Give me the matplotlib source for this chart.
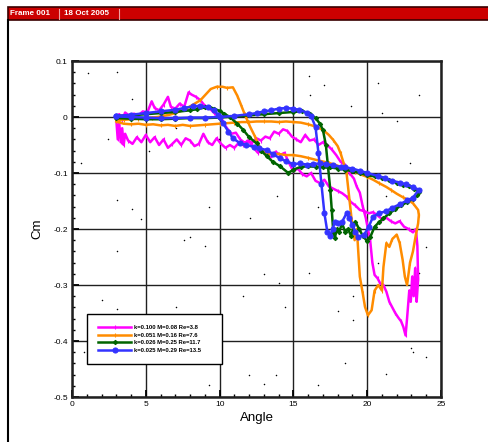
import matplotlib
matplotlib.use("Agg")
import matplotlib.pyplot as plt
from matplotlib.patches import Rectangle
from matplotlib.lines import Line2D
from matplotlib.ticker import MultipleLocator

plt.rcParams['font.family'] = ['Liberation Sans', 'DejaVu Sans']

# ---------------------------------------------------------------
# pitching moment loops, Cm vs angle (deg)
# ---------------------------------------------------------------
labels = ["k=0.100 M=0.08 Re=3.8",
          "k=0.051 M=0.16 Re=7.6",
          "k=0.026 M=0.25 Re=11.7",
          "k=0.025 M=0.29 Re=13.5"]

ang_k100 = [3.0, 3.2, 3.4, 3.6, 3.9, 4.2, 4.5, 4.8, 5.1, 5.4, 5.6, 5.9, 6.2, 6.5, 6.7, 7.0, 7.3, 7.6, 7.9, 8.1,
            8.4, 8.7, 9.0, 9.3, 9.6, 9.9, 10.2, 10.5, 10.8, 11.1, 11.4, 11.7, 12.0, 12.3, 12.6, 12.9, 13.2, 13.5,
            13.8, 14.1, 14.4, 14.7, 15.0, 15.3, 15.6, 15.9, 16.2, 16.5, 16.8, 17.1, 17.4, 17.7, 18.0, 18.3, 18.6,
            18.9, 19.2, 19.5, 19.8, 20.1, 20.4, 20.7, 21.0, 21.3, 21.6, 21.9, 22.2, 22.5, 22.8, 23.1, 23.3,
            23.4, 23.45, 23.35, 23.25, 23.15, 23.05, 22.95, 22.85, 22.7, 22.6, 22.45, 22.3, 22.1, 21.9, 21.7,
            21.5, 21.3, 21.1, 20.9, 20.7, 20.5, 20.35, 20.2, 20.05, 19.9, 19.7, 19.5, 19.3, 19.1, 18.8, 18.5,
            18.2, 17.9, 17.6, 17.3, 17.0, 16.7, 16.4, 16.1, 15.8, 15.5, 15.2, 14.9, 14.6, 14.3, 14.0, 13.7,
            13.4, 13.1, 12.8, 12.5, 12.2, 11.9, 11.6, 11.3, 11.0, 10.7, 10.4, 10.1, 9.8, 9.5, 9.2, 8.9, 8.6,
            8.3, 8.0, 7.7, 7.4, 7.1, 6.8, 6.5, 6.2, 5.9, 5.6, 5.3, 5.0, 4.7, 4.4, 4.1, 3.8, 3.6, 3.5, 3.4, 3.3,
            3.2, 3.1, 3.0]
cm_k100 = [0.0, 0.005, -0.005, 0.008, 0.002, 0.006, 0.003, 0.01, 0.008, 0.028, 0.016, 0.012, 0.022, 0.036,
           0.018, 0.015, 0.024, 0.018, 0.044, 0.04, 0.036, 0.03, 0.02, 0.016, 0.008, 0.002, -0.008, -0.02,
           -0.03, -0.028, -0.04, -0.046, -0.043, -0.055, -0.064, -0.058, -0.068, -0.072, -0.062, -0.068,
           -0.064, -0.082, -0.097, -0.092, -0.102, -0.106, -0.1, -0.114, -0.118, -0.112, -0.124, -0.128,
           -0.132, -0.136, -0.142, -0.152, -0.158, -0.166, -0.168, -0.172, -0.17, -0.176, -0.182, -0.18,
           -0.186, -0.19, -0.186, -0.196, -0.2, -0.206, -0.2,
           -0.23, -0.29, -0.33, -0.27, -0.32, -0.285, -0.33, -0.31, -0.36, -0.39, -0.375, -0.365, -0.358,
           -0.35, -0.34, -0.33, -0.312, -0.3, -0.298, -0.288, -0.282, -0.26, -0.22, -0.2, -0.18, -0.16,
           -0.135, -0.125, -0.11, -0.1, -0.085, -0.08, -0.068, -0.058, -0.05, -0.045, -0.05, -0.04, -0.042,
           -0.032, -0.045, -0.04, -0.035, -0.025, -0.022, -0.03, -0.026, -0.038, -0.035, -0.042, -0.038,
           -0.046, -0.042, -0.05, -0.046, -0.055, -0.05, -0.055, -0.048, -0.038, -0.05, -0.045, -0.03,
           -0.048, -0.052, -0.042, -0.038, -0.05, -0.04, -0.048, -0.055, -0.04, -0.05, -0.036, -0.045,
           -0.032, -0.045, -0.036, -0.048, -0.042, -0.03, -0.05, -0.02, -0.045, -0.01, -0.04, -0.005]

ang_k051 = [3.0, 3.5, 4.0, 4.5, 5.0, 5.5, 6.0, 6.5, 7.0, 7.5, 8.0, 8.5, 9.0, 9.5, 10.0, 10.5, 11.0, 11.5,
            12.0, 12.5, 13.0, 13.5, 14.0, 14.5, 15.0, 15.5, 16.0, 16.5, 17.0, 17.4, 17.7, 18.0, 18.2, 18.4,
            18.6, 18.8, 19.0, 19.15, 19.3, 19.5, 19.7, 19.85, 20.05, 20.3, 20.5, 20.75, 21.0, 21.1, 21.3,
            21.5, 21.7, 22.0, 22.2, 22.4, 22.55, 22.7, 22.9, 23.1, 23.3, 23.45, 23.5, 23.45,
            23.1, 22.7, 22.4, 22.0, 21.6, 21.3, 20.8, 20.4, 20.0, 19.6, 19.2, 18.6, 18.2, 17.9, 17.4, 16.6,
            16.0, 15.5, 15.0, 14.5, 14.0, 13.5, 13.1, 12.7, 12.4, 12.06, 11.7, 11.4, 11.2, 10.9, 10.5,
            10.2, 9.8, 9.4, 8.7, 8.2, 7.8, 7.4, 7.0, 6.6, 6.2, 5.8, 5.4, 5.0, 4.5, 4.0, 3.5, 3.0]
cm_k051 = [-0.008, -0.012, -0.013, -0.012, -0.014, -0.013, -0.015, -0.014, -0.016, -0.014, -0.016, -0.015,
           -0.014, -0.013, -0.012, -0.011, -0.01, -0.009, -0.009, -0.008, -0.008, -0.008, -0.009, -0.008,
           -0.009, -0.01, -0.013, -0.017, -0.023, -0.032, -0.041, -0.052, -0.065, -0.082, -0.1, -0.148,
           -0.196, -0.22, -0.2, -0.285, -0.315, -0.339, -0.354, -0.345, -0.31, -0.3, -0.31, -0.268, -0.225,
           -0.232, -0.218, -0.21, -0.225, -0.255, -0.285, -0.3, -0.26, -0.24, -0.21, -0.19, -0.175, -0.166,
           -0.154, -0.147, -0.143, -0.137, -0.13, -0.125, -0.118, -0.112, -0.107, -0.103, -0.098, -0.092,
           -0.089, -0.086, -0.082, -0.077, -0.073, -0.07, -0.068, -0.068, -0.066, -0.066, -0.065, -0.053,
           -0.035, -0.017, 0.005, 0.025, 0.038, 0.053, 0.052, 0.054, 0.054, 0.05, 0.03, 0.022, 0.016, 0.011,
           0.007, 0.004, 0.002, 0.0, -0.001, -0.002, -0.003, -0.004, -0.005, -0.006]

ang_k026 = [3.0, 4.0, 5.0, 6.0, 7.0, 8.0, 9.0, 10.0, 11.0, 12.0, 13.0, 14.0, 15.0, 15.6, 16.1, 16.5,
            16.8, 17.0, 17.2, 17.35, 17.5, 17.6, 17.7, 17.8, 17.95, 18.1, 18.3, 18.5, 18.7, 18.9, 19.2,
            19.45, 19.7, 20.0, 20.2, 20.5, 20.8, 21.1, 21.5, 21.9, 22.3, 22.7, 23.1, 23.4, 23.5,
            23.2, 22.8, 22.4, 22.0, 21.5, 21.0, 20.5, 20.0, 19.5, 19.0, 18.5, 18.0, 17.5, 17.0, 16.5, 16.0,
            15.5, 15.0, 14.65, 14.1, 13.6, 13.2, 12.8, 12.5, 12.0, 11.6, 11.2, 10.7, 10.3, 10.0, 9.6, 9.3,
            9.0, 8.5, 8.0, 7.0, 6.0, 5.0, 4.0, 3.0]
cm_k026 = [-0.002, -0.003, -0.004, -0.004, -0.003, -0.002, -0.002, -0.001, 0.001, 0.003, 0.005, 0.007,
           0.009, 0.01, 0.006, -0.002, -0.012, -0.023, -0.05, -0.09, -0.13, -0.166, -0.205, -0.216, -0.2,
           -0.205, -0.19, -0.205, -0.2, -0.212, -0.187, -0.2, -0.212, -0.222, -0.215, -0.196, -0.188,
           -0.181, -0.172, -0.165, -0.158, -0.152, -0.146, -0.14, -0.134,
           -0.128, -0.124, -0.121, -0.117, -0.113, -0.109, -0.106, -0.104, -0.1, -0.097, -0.094, -0.092,
           -0.09, -0.09, -0.089, -0.088, -0.089, -0.094, -0.1, -0.088, -0.08, -0.07, -0.06, -0.047, -0.036,
           -0.023, -0.012, 0.0, 0.006, 0.011, 0.015, 0.018, 0.017, 0.014, 0.012, 0.009, 0.007, 0.005,
           0.003, 0.002]

ang_k025 = [3.0, 4.0, 5.0, 6.0, 7.0, 8.0, 9.0, 10.0, 11.0, 12.0, 12.5, 13.0, 13.5, 14.0, 14.5, 15.0,
            15.4, 15.9, 16.2, 16.5, 16.7, 16.9, 17.1, 17.3, 17.5, 17.65, 17.8, 18.0, 18.3, 18.6, 18.8,
            19.0, 19.2, 19.4, 19.8, 20.1, 20.4, 20.8, 21.3, 21.7, 22.2, 22.7, 23.1, 23.5,
            23.1, 22.6, 22.2, 21.7, 21.2, 20.7, 20.0, 19.5, 19.0, 18.5, 18.2, 17.7, 17.2, 16.8, 16.3, 15.9,
            15.45, 15.0, 14.5, 14.1, 13.6, 13.2, 12.7, 12.3, 11.8, 11.4, 10.9, 10.6, 10.2, 9.9, 9.6, 9.2,
            8.7, 8.2, 7.6, 7.0, 6.0, 5.0, 4.0, 3.0]
cm_k025 = [0.001, 0.0, -0.001, -0.002, -0.002, -0.001, -0.001, 0.0, 0.002, 0.005, 0.007, 0.01, 0.012,
           0.015, 0.016, 0.015, 0.0125, 0.008, 0.002, -0.018, -0.065, -0.12, -0.172, -0.205, -0.213, -0.2,
           -0.188, -0.19, -0.187, -0.172, -0.18, -0.193, -0.205, -0.214, -0.21, -0.196, -0.178, -0.172,
           -0.168, -0.162, -0.156, -0.149, -0.144, -0.13,
           -0.125, -0.12, -0.117, -0.114, -0.109, -0.105, -0.1, -0.096, -0.092, -0.09, -0.089, -0.086,
           -0.084, -0.083, -0.084, -0.085, -0.083, -0.084, -0.079, -0.074, -0.066, -0.059, -0.056, -0.053,
           -0.05, -0.047, -0.038, -0.026, -0.01, 0.004, 0.012, 0.017, 0.02, 0.019, 0.016, 0.013, 0.01, 0.007,
           0.004, 0.002]

# scattered stray samples
dot_ang = [1.06, 3.05, 4.06, 2.44, 5.24, 0.63, 3.05, 4.06, 4.67, 9.26, 12.08, 13.88, 16.66, 16.03, 17.04,
           16.1, 18.9, 20.7, 21.0, 22.0, 23.5, 22.9, 21.3, 11.47, 9.93, 11.0, 7.05,
           3.05, 7.6, 8.0, 9.03, 13.0, 14.04, 16.07, 11.6, 14.45, 2.03, 3.05, 7.04, 18.0, 19.03, 19.03, 20.7,
           24.0, 23.5, 23.0, 23.07, 24.0, 0.81, 18.5, 21.3, 12.0, 13.8, 13.0, 9.26, 16.66]
dot_cm = [0.079, 0.08, 0.032, -0.04, -0.061, -0.082, -0.148, -0.165, -0.182, -0.161, -0.181, -0.141, -0.16,
          0.074, 0.058, 0.039, 0.02, 0.06, 0.008, -0.008, 0.039, -0.082, -0.141, 0.021, -0.04, -0.053, -0.019,
          -0.239, -0.219, -0.214, -0.23, -0.281, -0.296, -0.279, -0.319, -0.339, -0.327, -0.343, -0.339,
          -0.346, -0.319, -0.362, -0.26, -0.233, -0.279, -0.413, -0.419, -0.429, -0.42, -0.439, -0.459,
          -0.461, -0.46, -0.476, -0.479, -0.479]

xticks = [0, 5, 10, 15, 20, 25]
xtick_labels = ["0", "5", "10", "15", "20", "25"]
yticks = [0.1, 0.0, -0.1, -0.2, -0.3, -0.4, -0.5]
ytick_labels = ["0.1", "0", "-0.1", "-0.2", "-0.3", "-0.4", "-0.5"]

series = [
    (ang_k100, cm_k100, '#ff00ff', '|', 3.0, 2),
    (ang_k051, cm_k051, '#ff8c00', '|', 3.0, 2),
    (ang_k026, cm_k026, '#006400', 'D', 2.2, 1),
    (ang_k025, cm_k025, '#3333ff', 'o', 3.6, 1),
]

fig = plt.figure(figsize=(4.89, 4.42), dpi=100)

# frame header bar and border
fig.add_artist(Rectangle((8 / 489, 422 / 442), 481 / 489, 13 / 442, transform=fig.transFigure,
                         facecolor='#cc0000', edgecolor='#3a0000', linewidth=1.2))
fig.add_artist(Line2D([8 / 489, 8 / 489], [0, 422 / 442], transform=fig.transFigure,
                      color='black', linewidth=1.5))
fig.text(10 / 489, 428.5 / 442, "Frame 001", color='white', fontsize=5.8, fontweight='bold',
         va='center', ha='left')
fig.text(64 / 489, 428.5 / 442, "18 Oct 2005", color='white', fontsize=5.8, fontweight='bold',
         va='center', ha='left')
for px in (59, 119):
    fig.add_artist(Line2D([px / 489, px / 489], [423.5 / 442, 433.5 / 442], transform=fig.transFigure,
                          color='#f0a0a0', linewidth=0.8))

ax = fig.add_axes([72 / 489, 45 / 442, 369 / 489, 336 / 442])

for ang, cm, col, mk, ms, me in series:
    ax.plot(ang, cm, color=col, linewidth=1.8, marker=mk, markersize=ms, markevery=me,
            markerfacecolor=col, markeredgecolor=col, markeredgewidth=0.8, zorder=3)

ax.scatter(dot_ang, dot_cm, s=1.2, color='black', zorder=2, linewidths=0)

ax.set_xlim(0, 25)
ax.set_ylim(-0.5, 0.1)
ax.set_xticks(xticks)
ax.set_xticklabels(xtick_labels)
ax.set_yticks(yticks)
ax.set_yticklabels(ytick_labels)
ax.xaxis.set_minor_locator(MultipleLocator(1))
ax.yaxis.set_minor_locator(MultipleLocator(0.02))
ax.tick_params(which='major', direction='in', length=5, width=1.3, labelsize=6, pad=3,
               top=False, right=False)
ax.tick_params(which='minor', direction='in', length=2.5, width=1.0, top=False, right=False)
ax.grid(True, which='major', color='#202020', linewidth=1.0, zorder=1)
ax.set_axisbelow(True)
for s in ax.spines.values():
    s.set_linewidth(1.8)
    s.set_color('#202020')

ax.set_xlabel("Angle", fontsize=9.5, labelpad=3)
ax.set_ylabel("Cm", fontsize=9.5, labelpad=7)

handles = [Line2D([], [], color=col, linewidth=1.8, marker=mk, markersize=ms,
                  markerfacecolor=col, markeredgecolor=col, markeredgewidth=0.8)
           for _, _, col, mk, ms, _ in series]
leg = ax.legend(handles, labels, loc='lower left', bbox_to_anchor=(0.041, 0.098, 0.366, 0.164),
                mode='expand', fancybox=False, framealpha=1, edgecolor='black',
                prop={'size': 4.2, 'weight': 'bold'}, handlelength=5.6, handletextpad=0.5,
                labelspacing=0.45, borderpad=1.9, numpoints=1, borderaxespad=0)
leg.get_frame().set_linewidth(1.0)
leg.set_zorder(5)

fig.savefig("out.png", dpi=100)
